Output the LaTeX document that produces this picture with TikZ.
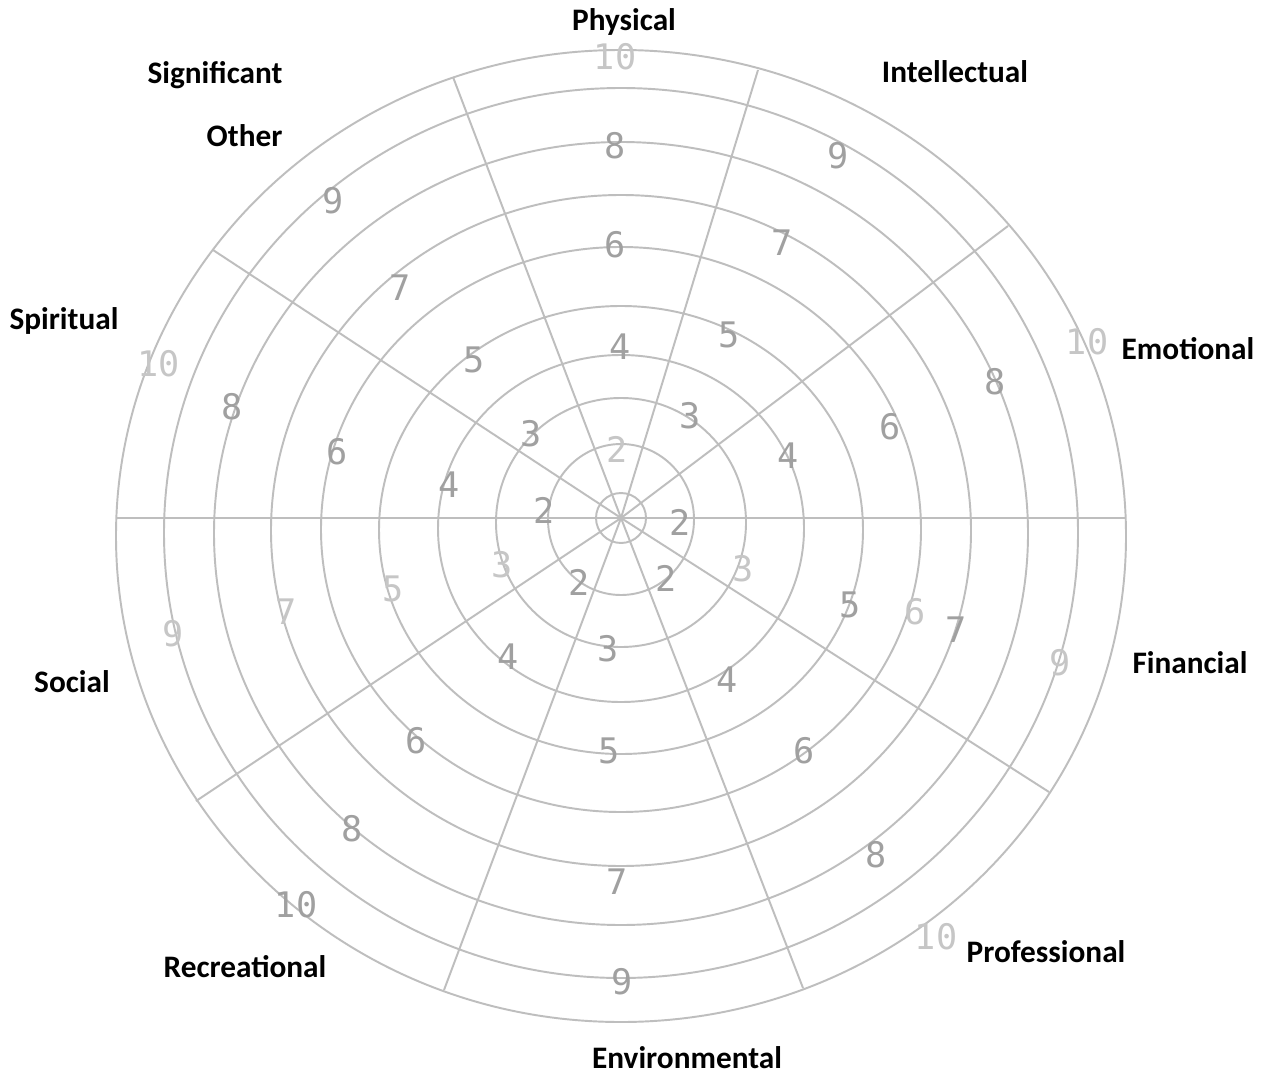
\documentclass[tikz,border=0pt]{standalone}
\usepackage{fontspec}
\newfontfamily\areafont{Carlito}
\newfontfamily\scorefont{DejaVu Sans Mono}
\usepackage{tikz}
\usetikzlibrary{positioning}
\definecolor{wheelgray}{RGB}{190,190,190}
\definecolor{scoregray}{RGB}{160,160,160}
\definecolor{faintgray}{RGB}{198,198,198}
\newcommand{\ring}[3]{\draw[wheel] (621,#3) ellipse [x radius=#1, y radius=#2];}
\tikzset{
	wheel/.style = {draw=wheelgray, line width=0.55pt},
	area/.style = {font=\areafont\bfseries\fontsize{8.9}{17.9}\selectfont, text=black, inner sep=0pt},
	score/.style = {font=\scorefont\fontsize{10}{10}\selectfont, text=scoregray, inner sep=0pt},
	faint/.style = {score, text=faintgray}
}

\begin{document}
\begin{tikzpicture}[x=0.01cm, y=-0.01cm]

					\fill[white] (0,0) rectangle (1270,1076);
					\useasboundingbox (0,0) rectangle (1270,1076);

					\coordinate (hub) at (621,518);
					\coordinate (s1) at (453,77);
					\coordinate (s2) at (758,70);
					\coordinate (s3) at (1008,226);
					\coordinate (s4) at (1125,518);
					\coordinate (s5) at (1049,792);
					\coordinate (s6) at (803,988);
					\coordinate (s7) at (444,990);
					\coordinate (s8) at (196,801);
					\coordinate (s9) at (116,518);
					\coordinate (s10) at (213,250);

					\draw[wheel] (hub) circle [radius=25];
					\ring{73}{75.5}{519.5}
					\ring{125}{124.5}{522.5}
					\ring{183}{173.5}{528.5}
					\ring{242}{224}{530}
					\ring{300}{282.5}{529.5}
					\ring{350}{335.5}{530.5}
					\ring{407}{391.5}{533.5}
					\ring{457}{445}{533}
					\ring{505}{486}{536}

					\draw[wheel] (s9) -- (s4);
					\draw[wheel] (hub) -- (s1);
					\draw[wheel] (hub) -- (s2);
					\draw[wheel] (hub) -- (s3);
					\draw[wheel] (hub) -- (s5);
					\draw[wheel] (hub) -- (s6);
					\draw[wheel] (hub) -- (s7);
					\draw[wheel] (hub) -- (s8);
					\draw[wheel] (hub) -- (s10);

					\node[faint] (phy10) at (615,57) {10};
					\node[score] (phy8) at (615,146) {8};
					\node[score] (phy6) at (615,245) {6};
					\node[score] (phy4) at (620,347) {4};
					\node[faint] (phy2) at (617,449) {2};

					\node[score] (int9) at (838,156) {9};
					\node[score] (int7) at (782,243) {7};
					\node[score] (int5) at (729,335) {5};
					\node[score] (int3) at (690,416) {3};

					\node[faint] (emo10) at (1087,342) {10};
					\node[score] (emo8) at (995,382) {8};
					\node[score] (emo6) at (890,427) {6};
					\node[score] (emo4) at (788,456) {4};
					\node[score] (emo2) at (680,522) {2};

					\node[faint] (fin3) at (743,569) {3};
					\node[score] (fin5) at (850,605) {5};
					\node[faint] (fin6) at (915,612) {6};
					\node[score] (fin7) at (956,630) {7};
					\node[faint] (fin9) at (1060,663) {9};

					\node[score] (pro2) at (666,578) {2};
					\node[score] (pro4) at (727,680) {4};
					\node[score] (pro6) at (804,751) {6};
					\node[score] (pro8) at (876,855) {8};
					\node[faint] (pro10) at (936,937) {10};

					\node[score] (env2) at (579,582) {2};
					\node[score] (env3) at (608,649) {3};
					\node[score] (env5) at (609,751) {5};
					\node[score] (env7) at (617,882) {7};
					\node[score] (env9) at (622,982) {9};

					\node[score] (rec4) at (508,657) {4};
					\node[score] (rec6) at (416,741) {6};
					\node[score] (rec8) at (352,829) {8};
					\node[score] (rec10) at (296,905) {10};

					\node[faint] (soc3) at (502,565) {3};
					\node[faint] (soc5) at (393,589) {5};
					\node[faint] (soc7) at (286,612) {7};
					\node[faint] (soc9) at (173,634) {9};

					\node[score] (spi2) at (544,510) {2};
					\node[score] (spi4) at (449,485) {4};
					\node[score] (spi6) at (337,452) {6};
					\node[score] (spi8) at (232,407) {8};
					\node[faint] (spi10) at (159,364) {10};

					\node[score] (oth3) at (531,434) {3};
					\node[score] (oth5) at (474,360) {5};
					\node[score] (oth7) at (400,288) {7};
					\node[score] (oth9) at (333,201) {9};

					\node[area] (physical) at (624,22) {Physical};
					\node[area] (intellectual) at (955,72) {Intellectual};
					\node[area] (emotional) at (1188,349) {Emotional};
					\node[area] (financial) at (1190,663) {Financial};
					\node[area] (professional) at (1046,952) {Professional};
					\node[area] (environmental) at (687,1058) {Environmental};
					\node[area] (recreational) at (245,967) {Recreational};
					\node[area] (social) at (72,682) {Social};
					\node[area] (spiritual) at (64,321) {Spiritual};
					\node[area, align=right] (significant) at (215,104) {Significant\\Other};

\end{tikzpicture}
\end{document}
